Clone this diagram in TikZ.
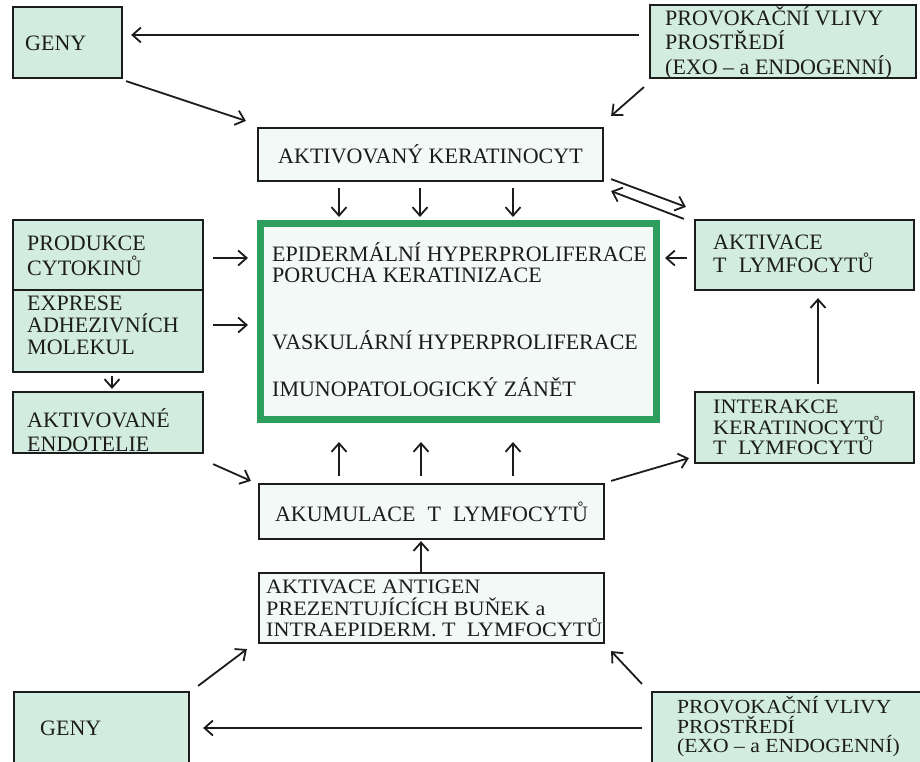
\documentclass[tikz,border=0pt]{standalone}
\usepackage{fontspec}
\setmainfont{Liberation Serif}
\newfontfamily\wideserif[FakeStretch=1.08]{Liberation Serif}
\usetikzlibrary{arrows.meta,calc}
\definecolor{mint}{RGB}{210,237,223}
\definecolor{pale}{RGB}{243,249,246}
\definecolor{frame}{RGB}{46,158,94}
\definecolor{ink}{RGB}{28,28,28}
\tikzset{
 box/.style={draw=ink, line width=2.2pt, fill=mint, inner sep=0pt},
 wbox/.style={box, fill=pale, font=\fontsize{22}{23}\selectfont, text=ink},
 txt/.style={font=\fontsize{22}{#1}\selectfont, align=left, anchor=west, inner sep=0pt, text=ink},
 txt/.default=23,
 arr/.style={draw=ink, line width=1.8pt, -{Straight Barb[length=8.5pt,width=15pt]}},
}
\newcommand{\gap}{\hspace{0.55em}}
\begin{document}
\begin{tikzpicture}[x=1pt,y=-1pt]
\useasboundingbox (0,0) rectangle (920,762);
\fill[white] (0,0) rectangle (920,762);

% boxes
\node[box, minimum width=109, minimum height=71] (geny1) at (67.5,42.5) {};
\node[box, minimum width=266, minimum height=73] (prov1) at (783,41.5) {};
\node[wbox, minimum width=345, minimum height=53] (aktker) at (430.5,154.5) {AKTIVOVANÝ KERATINOCYT};
\node[draw=frame, line width=7pt, fill=pale, minimum width=396, minimum height=196, inner sep=0pt] (main) at (458.5,321.5) {};
\node[box, minimum width=190, minimum height=70] (prod) at (108,255) {};
\node[box, minimum width=190, minimum height=82] (expr) at (108,331) {};
\node[box, minimum width=190, minimum height=61] (endot) at (108,422.5) {};
\node[box, minimum width=219, minimum height=70] (aktlym) at (804.5,255) {};
\node[box, minimum width=219, minimum height=71] (inter) at (804.5,427.5) {};
\node[wbox, minimum width=345, minimum height=55] (akum) at (431.5,511.5) {AKUMULACE\gap T\gap LYMFOCYTŮ};
\node[wbox, minimum width=345, minimum height=70] (antig) at (431.5,608) {};
\node[box, minimum width=175, minimum height=83] (geny2) at (101.5,733.5) {};
\node[box, minimum width=273, minimum height=83] (prov2) at (788.5,733.5) {};

% texts
\node[txt] (tgeny1) at (25,43) {GENY};
\node[txt=24.5] (tprov1) at (665,42.5) {PROVOKAČNÍ VLIVY\\PROSTŘEDÍ\\(EXO – a ENDOGENNÍ)};
\node[txt] (tm1) at (272,252) {EPIDERMÁLNÍ HYPERPROLIFERACE};
\node[txt] (tm2) at (272,275) {PORUCHA KERATINIZACE};
\node[txt] (tm3) at (272,340) {VASKULÁRNÍ HYPERPROLIFERACE};
\node[txt] (tm4) at (272,387) {IMUNOPATOLOGICKÝ ZÁNĚT};
\node[txt=25] (tprod) at (27,255.5) {PRODUKCE\\CYTOKINŮ};
\node[txt=22] (texpr) at (27,325) {EXPRESE\\ADHEZIVNÍCH\\MOLEKUL};
\node[txt=24] (tendot) at (27,430) {AKTIVOVANÉ\\ENDOTELIE};
\node[txt=23] (taktlym) at (713,253.5) {AKTIVACE\\T\gap LYMFOCYTŮ};
\node[txt, font=\wideserif\fontsize{20.5}{20.5}\selectfont] (tinter) at (713,427.5) {INTERAKCE\\KERATINOCYTŮ\\T\gap LYMFOCYTŮ};
\node[txt, font=\wideserif\fontsize{20.5}{21.5}\selectfont] (tantig) at (266,608.5) {AKTIVACE ANTIGEN\\PREZENTUJÍCÍCH BUŇEK a\\INTRAEPIDERM. T\gap LYMFOCYTŮ};
\node[txt] (tgeny2) at (40,728) {GENY};
\node[txt, font=\wideserif\fontsize{20}{19.5}\selectfont] (tprov2) at (677,727) {PROVOKAČNÍ VLIVY\\PROSTŘEDÍ\\(EXO – a ENDOGENNÍ)};

% connectors
\draw[arr] ($(prov1.west)+(-10,-6.5)$) -- ($(geny1.east)+(8,-7.5)$);
\draw[arr] ($(geny1.south east)+(3,2)$) -- ($(aktker.north west)+(-11,-6)$);
\draw[arr] ($(prov1.south west)+(-5,8)$) -- ($(aktker.north east)+(7,-11)$);
\draw[arr] ($(aktker.south)+(-91.5,6)$) -- ($(main.north)+(-119.5,-3)$);
\draw[arr] ($(aktker.south)+(-10.5,6)$) -- ($(main.north)+(-38.5,-3)$);
\draw[arr] ($(aktker.south)+(82.5,6)$) -- ($(main.north)+(54.5,-3)$);
\draw[arr] ($(aktker.south east)+(7,-3)$) -- ($(aktlym.north west)+(-8,-12)$);
\draw[arr] ($(aktlym.north west)+(-10,0)$) -- ($(aktker.south east)+(7,9)$);
\draw[arr] ($(prod.east)+(9,3)$) -- ($(main.west)+(-9,-63.5)$);
\draw[arr] ($(expr.east)+(9,-6)$) -- ($(main.west)+(-9,3.5)$);
\draw[arr] ($(expr.south)+(4,3)$) -- ($(endot.north)+(4,-2)$);
\draw[arr] ($(aktlym.west)+(-7,3)$) -- ($(main.east)+(5,-63.5)$);
\draw[arr] ($(inter.north)+(13.5,-7)$) -- ($(aktlym.south)+(13.5,7)$);
\draw[arr] ($(endot.south east)+(9,10)$) -- ($(akum.north west)+(-7,-2)$);
\draw[arr] ($(akum.north east)+(6,-2)$) -- ($(inter.south west)+(-5,-6)$);
\draw[arr] ($(akum.north)+(-92.5,-7)$) -- ($(main.south)+(-119.5,19)$);
\draw[arr] ($(akum.north)+(-10.5,-7)$) -- ($(main.south)+(-37.5,19)$);
\draw[arr] ($(akum.north)+(81.5,-7)$) -- ($(main.south)+(54.5,19)$);
\draw[arr] ($(antig.north)+(-10.5,0)$) -- ($(akum.south)+(-10.5,1)$);
\draw[arr] ($(geny2.north east)+(8,-5)$) -- ($(antig.south west)+(-11,5)$);
\draw[arr] ($(prov2.north west)+(-9,-7)$) -- ($(antig.south east)+(6,7)$);
\draw[arr] ($(prov2.west)+(-9,-5.5)$) -- ($(geny2.east)+(13,-5.5)$);
\end{tikzpicture}
\end{document}
